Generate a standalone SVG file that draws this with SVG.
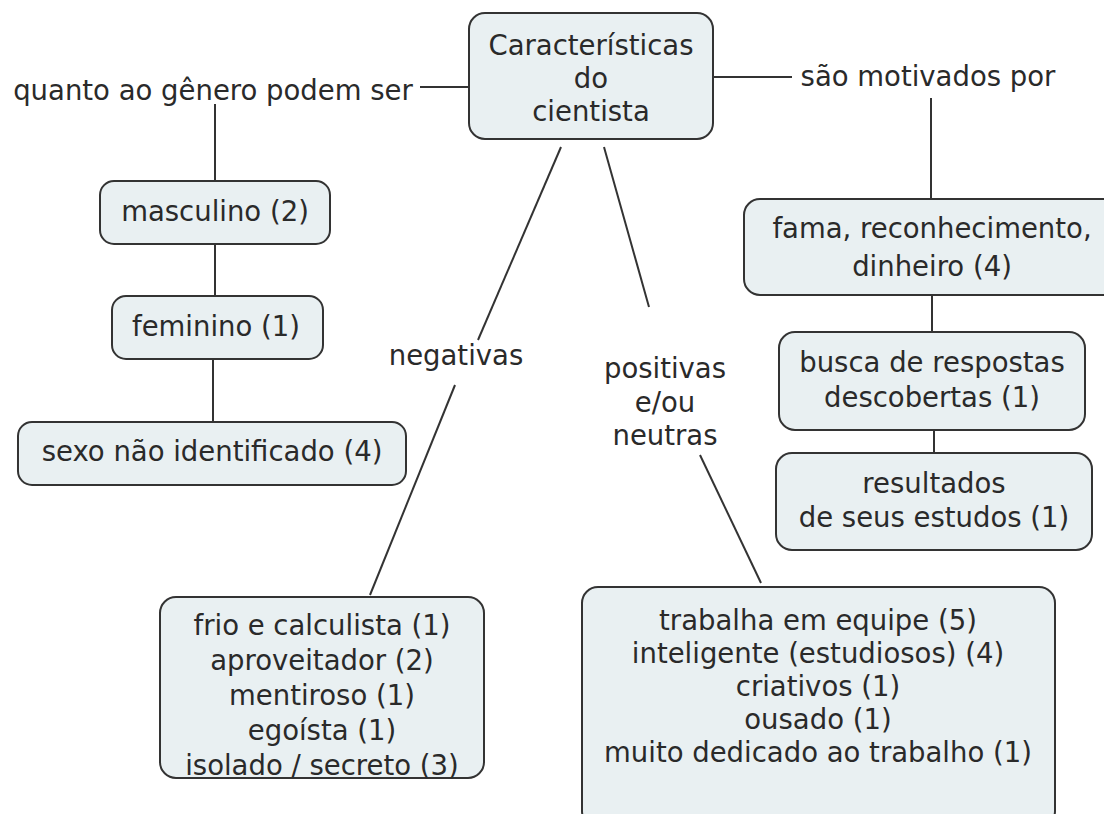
<svg xmlns="http://www.w3.org/2000/svg" width="1104" height="814" viewBox="0 0 1104 814">
<style>
.box{fill:#e9f0f2;stroke:#333;stroke-width:2}
.t{font-family:"DejaVu Sans",Verdana,sans-serif;font-size:27.5px;fill:#2a2a2a;text-anchor:middle}
.c{stroke:#333;stroke-width:2;fill:none}
</style>
<rect width="1104" height="814" fill="#fff"/>
<g id="connectors">
<line class="c" x1="420" y1="87" x2="468" y2="87"/>
<line class="c" x1="215" y1="104" x2="215" y2="180"/>
<line class="c" x1="215" y1="244" x2="215" y2="296"/>
<line class="c" x1="213" y1="359" x2="213" y2="422"/>
<line class="c" x1="713" y1="77" x2="792" y2="77"/>
<line class="c" x1="931" y1="98" x2="931" y2="199"/>
<line class="c" x1="932" y1="295" x2="932" y2="332"/>
<line class="c" x1="934" y1="430" x2="934" y2="453"/>
<line class="c" x1="561" y1="147" x2="478" y2="340"/>
<line class="c" x1="455" y1="385" x2="370" y2="595"/>
<line class="c" x1="604" y1="147" x2="649" y2="307"/>
<line class="c" x1="700" y1="455" x2="761" y2="583"/>
</g>
<g id="central">
<rect class="box" x="469" y="13" width="244" height="126" rx="16"/>
<text class="t" x="591" y="55">Características</text>
<text class="t" x="591" y="88">do</text>
<text class="t" x="591" y="121">cientista</text>
</g>
<g id="label-genero"><text class="t" x="213" y="100">quanto ao gênero podem ser</text></g>
<g id="label-motivados"><text class="t" x="928" y="86">são motivados por</text></g>
<g id="label-negativas"><text class="t" x="456" y="365">negativas</text></g>
<g id="label-positivas">
<text class="t" x="665" y="378">positivas</text>
<text class="t" x="665" y="412">e/ou</text>
<text class="t" x="665" y="445">neutras</text>
</g>
<g id="masculino">
<rect class="box" x="100" y="181" width="230" height="63" rx="14"/>
<text class="t" x="215" y="221">masculino (2)</text>
</g>
<g id="feminino">
<rect class="box" x="112" y="296" width="211" height="63" rx="14"/>
<text class="t" x="216" y="336">feminino (1)</text>
</g>
<g id="sexo">
<rect class="box" x="18" y="422" width="388" height="63" rx="14"/>
<text class="t" x="212" y="461">sexo não identificado (4)</text>
</g>
<g id="fama">
<rect class="box" x="744" y="199" width="380" height="96" rx="16"/>
<text class="t" x="932" y="238">fama, reconhecimento,</text>
<text class="t" x="932" y="276">dinheiro (4)</text>
</g>
<g id="busca">
<rect class="box" x="779" y="332" width="306" height="98" rx="16"/>
<text class="t" x="932" y="372">busca de respostas</text>
<text class="t" x="932" y="407">descobertas (1)</text>
</g>
<g id="resultados">
<rect class="box" x="776" y="453" width="316" height="97" rx="16"/>
<text class="t" x="934" y="493">resultados</text>
<text class="t" x="934" y="527">de seus estudos (1)</text>
</g>
<g id="negativas">
<rect class="box" x="160" y="597" width="324" height="181" rx="16"/>
<text class="t" x="322" y="635">frio e calculista (1)</text>
<text class="t" x="322" y="670">aproveitador (2)</text>
<text class="t" x="322" y="705">mentiroso (1)</text>
<text class="t" x="322" y="740">egoísta (1)</text>
<text class="t" x="322" y="775">isolado / secreto (3)</text>
</g>
<g id="positivas">
<rect class="box" x="582" y="587" width="473" height="240" rx="16"/>
<text class="t" x="818" y="630">trabalha em equipe (5)</text>
<text class="t" x="818" y="663">inteligente (estudiosos) (4)</text>
<text class="t" x="818" y="696">criativos (1)</text>
<text class="t" x="818" y="729">ousado (1)</text>
<text class="t" x="818" y="762">muito dedicado ao trabalho (1)</text>
</g>
</svg>
